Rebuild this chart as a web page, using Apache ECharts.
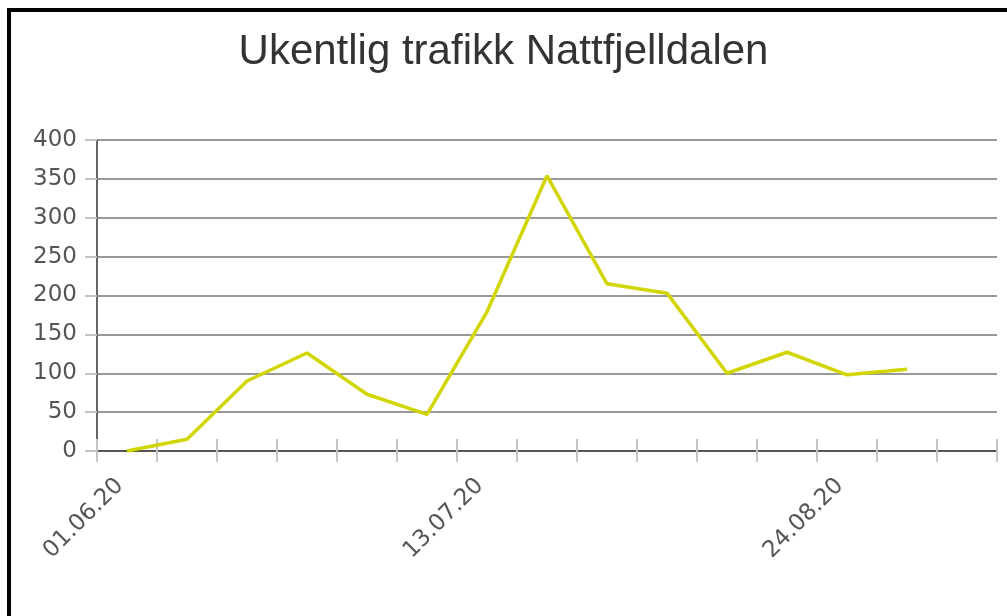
<!DOCTYPE html>
<html>
<head>
<meta charset="utf-8">
<script src="https://cdn.jsdelivr.net/npm/echarts@6/dist/echarts.min.js"></script>
<style>
  html, body { margin: 0; padding: 0; background: #fff; }
  #chart { width: 1007px; height: 616px; }
  .frame {
    position: absolute; left: 7px; top: 8px; right: 0; bottom: 0;
    border-top: 4px solid #000; border-left: 4px solid #000;
    pointer-events: none;
  }
</style>
</head>
<body>
<div id="chart"></div>
<div class="frame"></div>
<script>
const weeks = [
  "01.06.20", "08.06.20", "15.06.20", "22.06.20", "29.06.20",
  "06.07.20", "13.07.20", "20.07.20", "27.07.20", "03.08.20",
  "10.08.20", "17.08.20", "24.08.20", "31.08.20", "07.09.20",
];
const traffic = [0, 15, 90, 126, 73, 47, 179, 354, 215, 203, 100, 127, 98, 105, null];
const yTicks = { min: 0, max: 400, step: 50 };

const labelFont = {
  color: "#555",
  fontSize: 23,
  fontFamily: "DejaVu Sans",
};

const myChart = echarts.init(document.getElementById("chart"));
const option = {
  animation: false,
  title: {
    text: "Ukentlig trafikk Nattfjelldalen",
    left: "center",
    top: 26,
    textStyle: {
      color: "#333",
      fontSize: 42,
      fontWeight: "normal",
      fontFamily: "Liberation Sans",
    },
  },
  grid: { left: 97, right: 10, top: 140, bottom: 165 },
  xAxis: [
    {
      type: "category",
      data: weeks,
      boundaryGap: true,
      axisLine: { lineStyle: { color: "#555", width: 2 } },
      axisTick: {
        show: true,
        interval: 0,
        length: 11,
        lineStyle: { color: "#c4c4c4", width: 2 },
      },
      axisLabel: {
        ...labelFont,
        interval: 5,
        rotate: 45,
        margin: 24,
        padding: [0, 10, 0, 0],
      },
    },
    {
      // second copy only for the inner half of the ticks
      type: "category",
      data: weeks,
      position: "bottom",
      boundaryGap: true,
      axisLine: { show: false },
      axisTick: {
        show: true,
        interval: 0,
        inside: true,
        length: 12,
        lineStyle: { color: "#c4c4c4", width: 2 },
      },
      axisLabel: { show: false },
    },
  ],
  yAxis: {
    type: "value",
    min: yTicks.min,
    max: yTicks.max,
    interval: yTicks.step,
    axisLine: { show: true, lineStyle: { color: "#666", width: 2 } },
    axisTick: { show: true, length: 12, lineStyle: { color: "#c4c4c4", width: 2 } },
    axisLabel: { ...labelFont, margin: 20 },
    splitLine: { lineStyle: { color: "#999", width: 2 } },
  },
  series: [
    {
      type: "line",
      data: traffic,
      symbol: "none",
      lineStyle: { color: "#d2d600", width: 3.5 },
      z: 5,
    },
  ],
};
myChart.setOption(option);
</script>
</body>
</html>
